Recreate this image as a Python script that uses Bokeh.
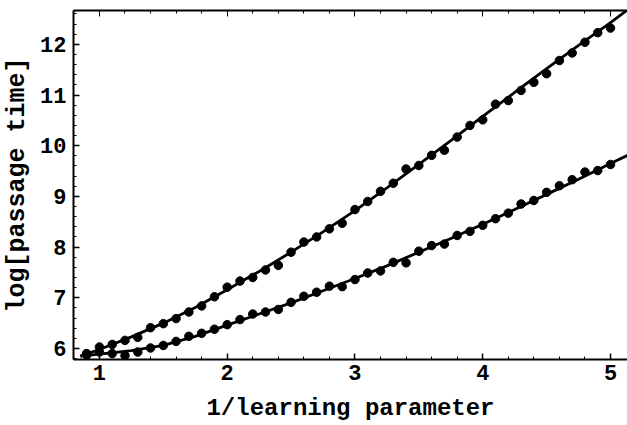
from bokeh.plotting import figure
from bokeh.models import LinearAxis, Range1d, FixedTicker
from bokeh.embed import file_html
from bokeh.resources import INLINE

# data points (x = 1/learning parameter)
x_pts = [0.9, 1.0, 1.1, 1.2, 1.3, 1.4, 1.5, 1.6, 1.7, 1.8, 1.9,
         2.0, 2.1, 2.2, 2.3, 2.4, 2.5, 2.6, 2.7, 2.8, 2.9,
         3.0, 3.1, 3.2, 3.3, 3.4, 3.5, 3.6, 3.7, 3.8, 3.9,
         4.0, 4.1, 4.2, 4.3, 4.4, 4.5, 4.6, 4.7, 4.8, 4.9, 5.0]
upper_pts = [5.90, 6.03, 6.08, 6.16, 6.22, 6.41, 6.49, 6.59, 6.72, 6.84, 7.02,
             7.21, 7.33, 7.40, 7.55, 7.64, 7.90, 8.10, 8.20, 8.36, 8.47,
             8.74, 8.90, 9.10, 9.26, 9.54, 9.61, 9.81, 9.91, 10.17, 10.40,
             10.51, 10.82, 10.89, 11.09, 11.25, 11.42, 11.68, 11.83, 12.04, 12.23, 12.32]
lower_pts = [5.87, 5.93, 5.90, 5.86, 5.93, 6.01, 6.06, 6.14, 6.24, 6.30, 6.38,
             6.47, 6.57, 6.68, 6.72, 6.77, 6.91, 7.03, 7.11, 7.23, 7.22,
             7.36, 7.49, 7.53, 7.70, 7.69, 7.92, 8.03, 8.06, 8.23, 8.31,
             8.43, 8.56, 8.67, 8.85, 8.92, 9.08, 9.21, 9.33, 9.48, 9.51, 9.63]

# fitted curves
x_fit = [0.85, 1.0, 1.25, 1.5, 1.75, 2.0, 2.25, 2.5, 2.75, 3.0, 3.25,
         3.5, 3.75, 4.0, 4.25, 4.5, 4.75, 5.0, 5.15]
upper_fit = [5.85, 5.98, 6.23, 6.50, 6.81, 7.16, 7.52, 7.90, 8.30, 8.72, 9.17,
             9.63, 10.10, 10.58, 11.05, 11.52, 11.98, 12.43, 12.71]
lower_fit = [5.85, 5.89, 5.96, 6.06, 6.24, 6.46, 6.68, 6.90, 7.14, 7.38, 7.63,
             7.90, 8.17, 8.45, 8.74, 9.04, 9.34, 9.65, 9.83]

x_ticks = [1, 2, 3, 4, 5]
y_ticks = [6, 7, 8, 9, 10, 11, 12]

FONT = "Liberation Mono"

p = figure(width=627, height=425, output_backend="svg", toolbar_location=None,
           x_range=Range1d(0.797, 5.133), y_range=Range1d(5.783, 12.667),
           min_border_left=72, min_border_right=0, min_border_top=10, min_border_bottom=66,
           x_axis_label="1/learning parameter", y_axis_label="log[passage time]")
p.outline_line_color = None
p.grid.visible = False
p.background_fill_color = "white"
p.border_fill_color = "white"

p.line(x_fit, upper_fit, line_color="black", line_width=2.8)
p.line(x_fit, lower_fit, line_color="black", line_width=2.8)
p.scatter(x_pts, upper_pts, size=8.5, fill_color="black", line_color="black")
p.scatter(x_pts, lower_pts, size=8.5, fill_color="black", line_color="black")

for ax in p.xaxis + p.yaxis:
    ax.axis_line_width = 2
    ax.axis_line_color = "black"
    ax.major_tick_in = 6
    ax.major_tick_out = 0
    ax.minor_tick_in = 3
    ax.minor_tick_out = 0
    ax.major_tick_line_width = 1.5
    ax.minor_tick_line_width = 1
    ax.major_label_text_font = FONT
    ax.major_label_text_font_style = "bold"
    ax.major_label_text_font_size = "22px"
    ax.major_label_text_color = "black"
    ax.axis_label_text_font = FONT
    ax.axis_label_text_font_style = "bold"
    ax.axis_label_text_color = "black"

p.xaxis.axis_label_text_font_size = "24px"
p.yaxis.axis_label_text_font_size = "25px"
p.xaxis.ticker = FixedTicker(ticks=x_ticks, minor_ticks=[i / 5 for i in range(4, 26)])
p.yaxis.ticker = FixedTicker(ticks=y_ticks, minor_ticks=[i / 5 for i in range(29, 64)])
p.xaxis.major_label_standoff = 5
p.yaxis.major_label_standoff = 7
p.xaxis.axis_label_standoff = 12
p.yaxis.axis_label_standoff = 5

top = LinearAxis(ticker=FixedTicker(ticks=x_ticks, minor_ticks=[i / 5 for i in range(4, 26)]))
top.axis_line_width = 2
top.major_tick_in = 6
top.major_tick_out = 0
top.minor_tick_in = 3
top.minor_tick_out = 0
top.major_label_text_font_size = "0px"
top.major_label_standoff = 0
p.add_layout(top, "above")

open("out.html", "w").write(file_html(p, INLINE))
